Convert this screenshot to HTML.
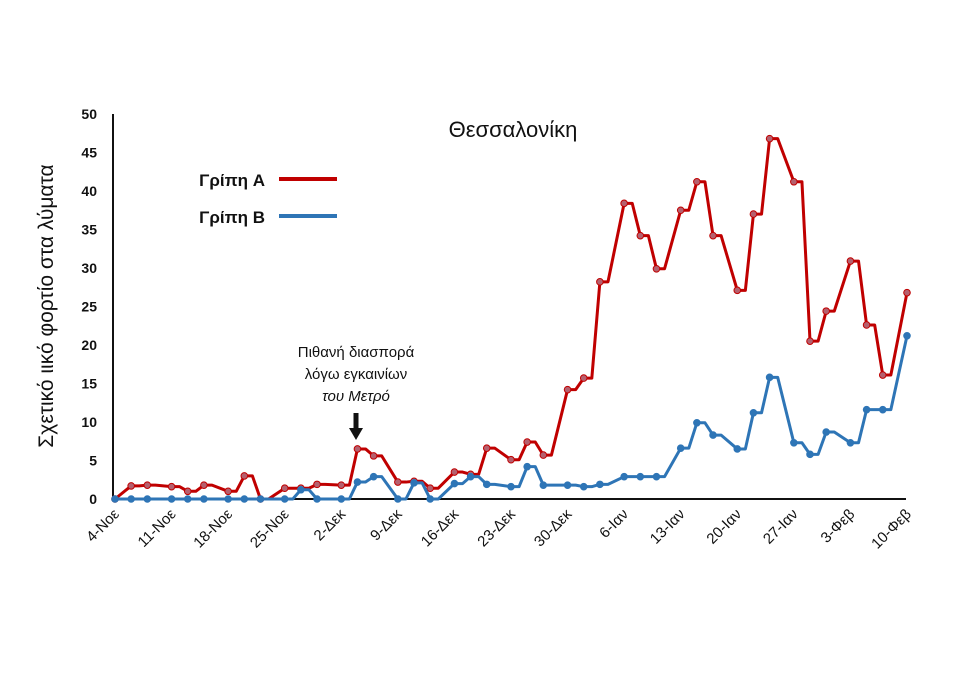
<!DOCTYPE html>
<html><head><meta charset="utf-8"><style>
body{margin:0;background:#fff;}
svg{display:block;font-family:"Liberation Sans","DejaVu Sans",sans-serif;}
</style></head><body>
<svg id="chart" width="960" height="678" viewBox="0 0 960 678">
<text x="513" y="137" font-size="22" text-anchor="middle" fill="#111">Θεσσαλονίκη</text>
<text transform="translate(53,306) rotate(-90)" font-size="21" text-anchor="middle" fill="#111">Σχετικό ιικό φορτίο στα λύματα</text>
<g>
<text x="265" y="186" font-size="17" font-weight="bold" text-anchor="end" fill="#111">Γρίπη A</text>
<line x1="279" y1="179" x2="337" y2="179" stroke="#c00000" stroke-width="4"/>
<text x="265" y="223" font-size="17" font-weight="bold" text-anchor="end" fill="#111">Γρίπη B</text>
<line x1="279" y1="216" x2="337" y2="216" stroke="#2e75b6" stroke-width="4"/>
</g>
<g font-size="15" fill="#111" text-anchor="middle">
<text x="356" y="357">Πιθανή διασπορά</text>
<text x="356" y="379">λόγω εγκαινίων</text>
<text x="356" y="401" font-style="italic">του Μετρό</text>
<line x1="356" y1="413" x2="356" y2="430" stroke="#111" stroke-width="5"/>
<polygon points="349,428 363,428 356,440" fill="#111"/>
</g>
<g id="axes"></g>
<g id="series"></g>
</svg>
<script>
const tickLabels=["4-Νοε","11-Νοε","18-Νοε","25-Νοε","2-Δεκ","9-Δεκ","16-Δεκ","23-Δεκ","30-Δεκ","6-Ιαν","13-Ιαν","20-Ιαν","27-Ιαν","3-Φεβ","10-Φεβ"];
const yTicks=[0,5,10,15,20,25,30,35,40,45,50];
const days=[0,2,4,7,9,11,14,16,18,21,23,25,28,30,32,35,37,39,42,44,46,49,51,53,56,58,60,63,65,67,70,72,74,77,79,81,84,86,88,91,93,95,98];
const fluA=[0,1.7,1.8,1.6,1.0,1.8,1.0,3.0,0,1.4,1.4,1.9,1.8,6.5,5.6,2.2,2.3,1.4,3.5,3.2,6.6,5.1,7.4,5.7,14.2,15.7,28.2,38.4,34.2,29.9,37.5,41.2,34.2,27.1,37.0,46.8,41.2,20.5,24.4,30.9,22.6,16.1,26.8];
const fluB=[0,0,0,0,0,0,0,0,0,0,1.2,0,0,2.2,2.9,0,2.1,0,2.0,2.9,1.9,1.6,4.2,1.8,1.8,1.6,1.9,2.9,2.9,2.9,6.6,9.9,8.3,6.5,11.2,15.8,7.3,5.8,8.7,7.3,11.6,11.6,21.2];
const NS="http://www.w3.org/2000/svg";
const x0=113,x1=906,y0=499,yTop=114;
const xs=d=>x0+(d/98)*(x1-x0-1)+2;
const ys=v=>y0-(v/50)*(y0-yTop);
const axes=document.getElementById('axes'),ser=document.getElementById('series');
function mk(tag,attrs,parent){const e=document.createElementNS(NS,tag);for(const k in attrs)e.setAttribute(k,attrs[k]);parent.appendChild(e);return e;}
const ya=mk('line',{x1:x0,y1:yTop,x2:x0,y2:y0,stroke:'#111','stroke-width':2},axes);


const xa=mk('line',{x1:x0,y1:y0,x2:x1,y2:y0,stroke:'#111','stroke-width':2},axes);


yTicks.forEach(v=>{const t=mk('text',{x:97,y:ys(v)+5,'font-size':14,'font-weight':'bold','text-anchor':'end',fill:'#111'},axes);t.textContent=v;

});
tickLabels.forEach((s,i)=>{const x=xs(i*7);const t=mk('text',{transform:`translate(${x+5},${y0+16}) rotate(-45)`,'font-size':15,'text-anchor':'end',fill:'#111'},axes);t.textContent=s;

});
function draw(vals,color,mfill,name){
 let pts=[];
 days.forEach((d,i)=>{pts.push(xs(d)+','+ys(vals[i]));if(i>0&&i<days.length-1)pts.push(xs(d+1)+','+ys(vals[i]));});
 const p=mk('polyline',{points:pts.join(' '),fill:'none',stroke:color,'stroke-width':3,'stroke-linejoin':'round'},ser);
 
 
 days.forEach((d,i)=>{const c=mk('circle',{cx:xs(d),cy:ys(vals[i]),r:3.3,fill:mfill,stroke:color,'stroke-width':1},ser);
 
 });
}
draw(fluA,'#c00000','#b5606e','flu-a');
draw(fluB,'#2e75b6','#2e75b6','flu-b');
</script>
</body></html>
